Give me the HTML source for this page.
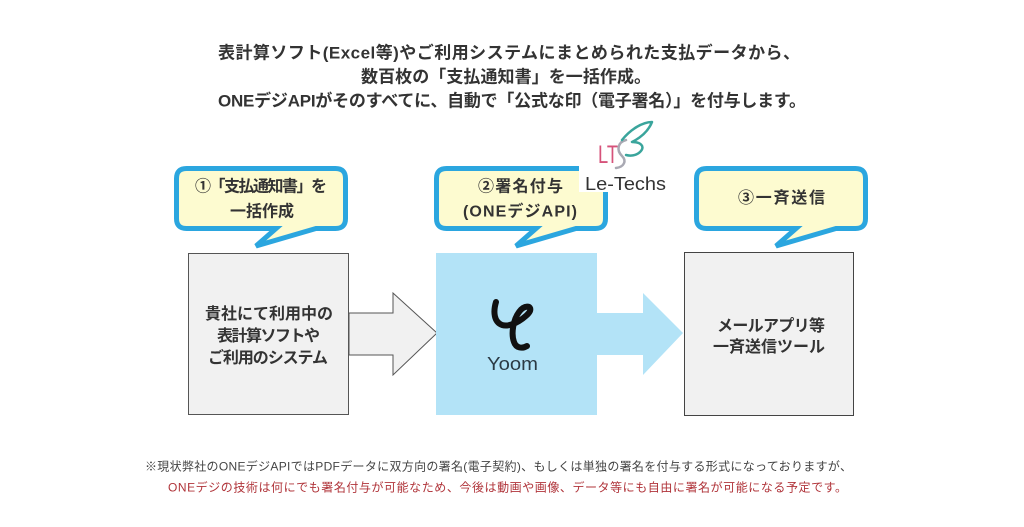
<!DOCTYPE html>
<html lang="ja">
<head>
<meta charset="utf-8">
<style>
html,body{margin:0;padding:0;background:#fff;}
body{width:1024px;height:527px;overflow:hidden;}
svg{display:block;}
text{font-family:"Liberation Sans","Noto Sans CJK JP",sans-serif;}
.b{font-weight:700;fill:#333;}
</style>
</head>
<body>
<svg width="1024" height="527" viewBox="0 0 1024 527" xmlns="http://www.w3.org/2000/svg">
  <rect width="1024" height="527" fill="#fff"/>

  <!-- Title -->
  <text class="b" x="218" y="58.5" font-size="17" textLength="582" lengthAdjust="spacing">表計算ソフト(Excel等)やご利用システムにまとめられた支払データから、</text>
  <text class="b" x="361" y="82.5" font-size="17" textLength="290" lengthAdjust="spacing">数百枚の「支払通知書」を一括作成。</text>
  <text class="b" x="218" y="106.5" font-size="17" textLength="588" lengthAdjust="spacing">ONEデジAPIがそのすべてに、自動で「公式な印（電子署名）」を付与します。</text>

  <!-- Bubbles -->
  <defs>
    <path id="bub" d="M186.5 168.5 H335.5 Q345.5 168.5 345.5 178.5 V218.5 Q345.5 228.5 335.5 228.5 H316 L256 246 L276 228.5 H186.5 Q176.5 228.5 176.5 218.5 V178.5 Q176.5 168.5 186.5 168.5 Z"/>
  </defs>
  <use href="#bub" fill="#fdfbd0" stroke="#2ba6df" stroke-width="5" stroke-linejoin="miter"/>
  <use href="#bub" transform="translate(260,0)" fill="#fdfbd0" stroke="#2ba6df" stroke-width="5" stroke-linejoin="miter"/>
  <use href="#bub" transform="translate(520,0)" fill="#fdfbd0" stroke="#2ba6df" stroke-width="5" stroke-linejoin="miter"/>

  <!-- Bubble texts -->
  <text class="b" x="195" y="191.5" font-size="16" textLength="132" lengthAdjust="spacing">①「支払通知書」を</text>
  <text class="b" x="262" y="216.5" font-size="16" text-anchor="middle">一括作成</text>

  <text class="b" x="478" y="191.5" font-size="16" textLength="85" lengthAdjust="spacing">②署名付与</text>
  <text class="b" x="463" y="216.5" font-size="16" textLength="114" lengthAdjust="spacing">(ONEデジAPI)</text>

  <text class="b" x="738" y="203" font-size="16" textLength="87" lengthAdjust="spacing">③一斉送信</text>

  <!-- Le-Techs logo (white backing) -->
  <rect x="579" y="112" width="92" height="80" fill="#fff"/>
  <text x="598" y="163" font-size="25" fill="#d6527a" textLength="20" lengthAdjust="spacingAndGlyphs" style="font-weight:300">LT</text>
  <path d="M626 140 C618 142,616 150,622 156 C627 161,624 167,616 168" fill="none" stroke="#a9a9b3" stroke-width="2.5" stroke-linecap="round"/>
  <path d="M622 140 C630 130,642 122,652 122 C648 132,640 138,632 142 C640 142,646 146,640 152 C636 156,630 156,626 155" fill="none" stroke="#3aa59c" stroke-width="2.5" stroke-linecap="round" stroke-linejoin="round"/>
  <text x="585" y="190" font-size="18" fill="#333" textLength="81" lengthAdjust="spacingAndGlyphs">Le-Techs</text>

  <!-- Arrow 1 -->
  <polygon points="349,313 393,313 393,293 437,333 393,375 393,355 349,355" fill="#f1f1f1" stroke="#555" stroke-width="1"/>
  <!-- Box 1 -->
  <rect x="188.5" y="253.5" width="160" height="161" fill="#f1f1f1" stroke="#555" stroke-width="1"/>
  <text class="b" x="205" y="319" font-size="16" textLength="128" lengthAdjust="spacing">貴社にて利用中の</text>
  <text class="b" x="217" y="341" font-size="16" textLength="103" lengthAdjust="spacing">表計算ソフトや</text>
  <text class="b" x="208" y="363" font-size="16" textLength="120" lengthAdjust="spacing">ご利用のシステム</text>

  <!-- Arrow 2 -->
  <polygon points="597,313 643,313 643,293 683,333 643,375 643,355 597,355" fill="#b3e3f7"/>
  <!-- Box 2 -->
  <rect x="436" y="253" width="161" height="162" fill="#b3e3f7"/>
  <path d="M496 302 C493 312,494 322,502 325 C512 328,528 316,530 311 C532 305,524 305,519 312 C513 320,511 334,514 342 C516 348,522 349,527 346" fill="none" stroke="#111" stroke-width="6" stroke-linecap="round" stroke-linejoin="round"/>
  <text x="487" y="370" font-size="18" fill="#2b3a44" textLength="51" lengthAdjust="spacingAndGlyphs">Yoom</text>

  <!-- Box 3 -->
  <rect x="684.5" y="252.5" width="169" height="163" fill="#f1f1f1" stroke="#444" stroke-width="1"/>
  <text class="b" x="717" y="331" font-size="16" textLength="108" lengthAdjust="spacing">メールアプリ等</text>
  <text class="b" x="713" y="352" font-size="16" textLength="112" lengthAdjust="spacing">一斉送信ツール</text>

  <!-- Footnote -->
  <text x="145" y="470.5" font-size="12" fill="#444" textLength="707" lengthAdjust="spacing">※現状弊社のONEデジAPIではPDFデータに双方向の署名(電子契約)、もしくは単独の署名を付与する形式になっておりますが、</text>
  <text x="168" y="491.5" font-size="12" fill="#b0343a" textLength="679" lengthAdjust="spacing">ONEデジの技術は何にでも署名付与が可能なため、今後は動画や画像、データ等にも自由に署名が可能になる予定です。</text>
</svg>
</body>
</html>
